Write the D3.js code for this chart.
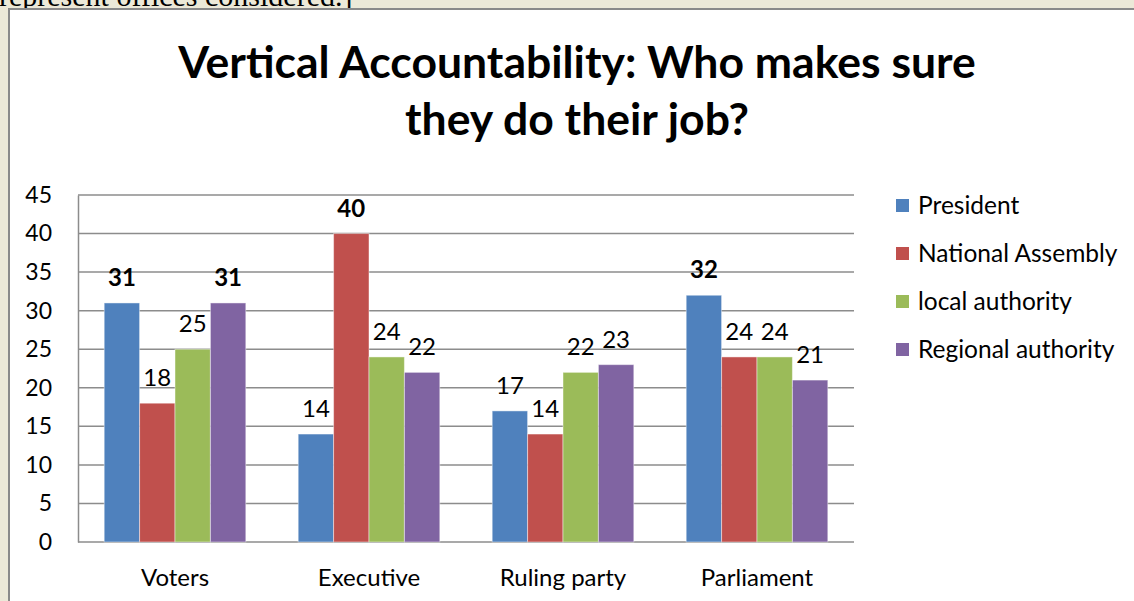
<!DOCTYPE html>
<html>
<head>
<meta charset="utf-8">
<script src="https://cdn.jsdelivr.net/npm/d3@7"></script>
<style>
  html, body { margin: 0; padding: 0; background: #ece9d8; overflow: hidden; }
  svg { display: block; }
  text { font-family: Lato, "Open Sans", sans-serif; fill: #000; }
</style>
</head>
<body>
<div id="chart"></div>
<script>
// chart data
const categories = ["Voters", "Executive", "Ruling party", "Parliament"];
const seriesNames = ["President", "National Assembly", "local authority", "Regional authority"];
const president = [31, 14, 17, 32];
const nationalAssembly = [18, 40, 14, 24];
const localAuthority = [25, 24, 22, 24];
const regionalAuthority = [31, 22, 23, 21];
const yTicks = [0, 5, 10, 15, 20, 25, 30, 35, 40, 45];
const titleLines = ["Vertical Accountability: Who makes sure", "they do their job?"];

// labels shown in bold in the original: [category index, series index]
const boldLabels = [[0, 0], [0, 3], [1, 1], [3, 0]];
const colors = ["#4f81bd", "#c0504d", "#9bbb59", "#8064a2"];

const seriesValues = [president, nationalAssembly, localAuthority, regionalAuthority];

const W = 1134, H = 601;
const plot = { left: 78, right: 854, top: 195, bottom: 542 };

const svg = d3.select("#chart").append("svg")
    .attr("width", W)
    .attr("height", H);

// text of the document above the chart, mostly cut off
svg.append("text")
    .attr("x", -1)
    .attr("y", 6)
    .style("font-family", "'Liberation Serif', 'DejaVu Serif', serif")
    .style("font-size", "30px")
    .text("represent offices considered.]");

// chart frame
svg.append("rect")
    .attr("x", 9).attr("y", 9)
    .attr("width", W + 20).attr("height", H + 20)
    .attr("fill", "#fff")
    .attr("stroke", "#8a8a8a")
    .attr("stroke-width", 2);

// title
const title = svg.append("text")
    .attr("text-anchor", "middle")
    .style("font-size", "44.5px")
    .style("font-weight", "bold");
title.selectAll("tspan")
    .data(titleLines)
    .enter().append("tspan")
    .attr("x", 577)
    .attr("y", (d, i) => 78 + i * 57)
    .text(d => d);

// scales
const x0 = d3.scaleBand()
    .domain(categories)
    .range([plot.left, plot.right])
    .paddingInner(0.27)
    .paddingOuter(0.135);

const x1 = d3.scaleBand()
    .domain(d3.range(seriesNames.length))
    .range([0, x0.bandwidth()]);

const y = d3.scaleLinear()
    .domain([0, 45])
    .range([plot.bottom, plot.top]);

// gridlines
svg.append("g")
    .selectAll("line")
    .data(yTicks)
    .enter().append("line")
    .attr("x1", plot.left)
    .attr("x2", plot.right)
    .attr("y1", d => y(d))
    .attr("y2", d => y(d))
    .attr("stroke", "#8c8c8c")
    .attr("stroke-width", 1.5);

// y axis
const yAxis = svg.append("g")
    .attr("transform", `translate(${plot.left},0)`)
    .call(d3.axisLeft(y).tickValues(yTicks).tickSize(0).tickPadding(26));
yAxis.select(".domain").attr("stroke", "#8c8c8c").attr("stroke-width", 1.5);
yAxis.selectAll("text")
    .style("font-family", "Lato, sans-serif")
    .style("font-size", "23px")
    .attr("fill", "#000");

// bars
const groups = svg.append("g")
    .selectAll("g")
    .data(categories)
    .enter().append("g")
    .attr("transform", d => `translate(${x0(d)},0)`);

groups.selectAll("rect")
    .data((d, ci) => seriesValues.map((vals, si) => ({ ci: ci, si: si, v: vals[ci] })))
    .enter().append("rect")
    .attr("x", d => x1(d.si))
    .attr("y", d => y(d.v))
    .attr("width", x1.bandwidth())
    .attr("height", d => y(0) - y(d.v))
    .attr("fill", d => colors[d.si])
    .attr("stroke", "#ffffff")
    .attr("stroke-opacity", 0.45)
    .attr("stroke-width", 1);

// value labels
const isBold = d => boldLabels.some(b => b[0] === d.ci && b[1] === d.si);
groups.selectAll("text.value")
    .data((d, ci) => seriesValues.map((vals, si) => ({ ci: ci, si: si, v: vals[ci] })))
    .enter().append("text")
    .attr("class", "value")
    .attr("x", d => x1(d.si) + x1.bandwidth() / 2)
    .attr("y", d => y(d.v) - 17)
    .attr("text-anchor", "middle")
    .style("font-size", "24px")
    .style("font-weight", d => isBold(d) ? "bold" : "normal")
    .text(d => d.v);

// category labels
svg.append("g")
    .selectAll("text")
    .data(categories)
    .enter().append("text")
    .attr("x", d => x0(d) + x0.bandwidth() / 2)
    .attr("y", 586)
    .attr("text-anchor", "middle")
    .style("font-size", "24px")
    .text(d => d);

// legend
const legend = svg.append("g")
    .selectAll("g")
    .data(seriesNames)
    .enter().append("g")
    .attr("transform", (d, i) => `translate(896,${205 + i * 48})`);

legend.append("rect")
    .attr("x", 0)
    .attr("y", -6)
    .attr("width", 13)
    .attr("height", 13)
    .attr("fill", (d, i) => colors[i]);

legend.append("text")
    .attr("x", 22)
    .attr("y", 0)
    .attr("dy", "0.35em")
    .style("font-size", "24.5px")
    .text(d => d);
</script>
</body>
</html>
